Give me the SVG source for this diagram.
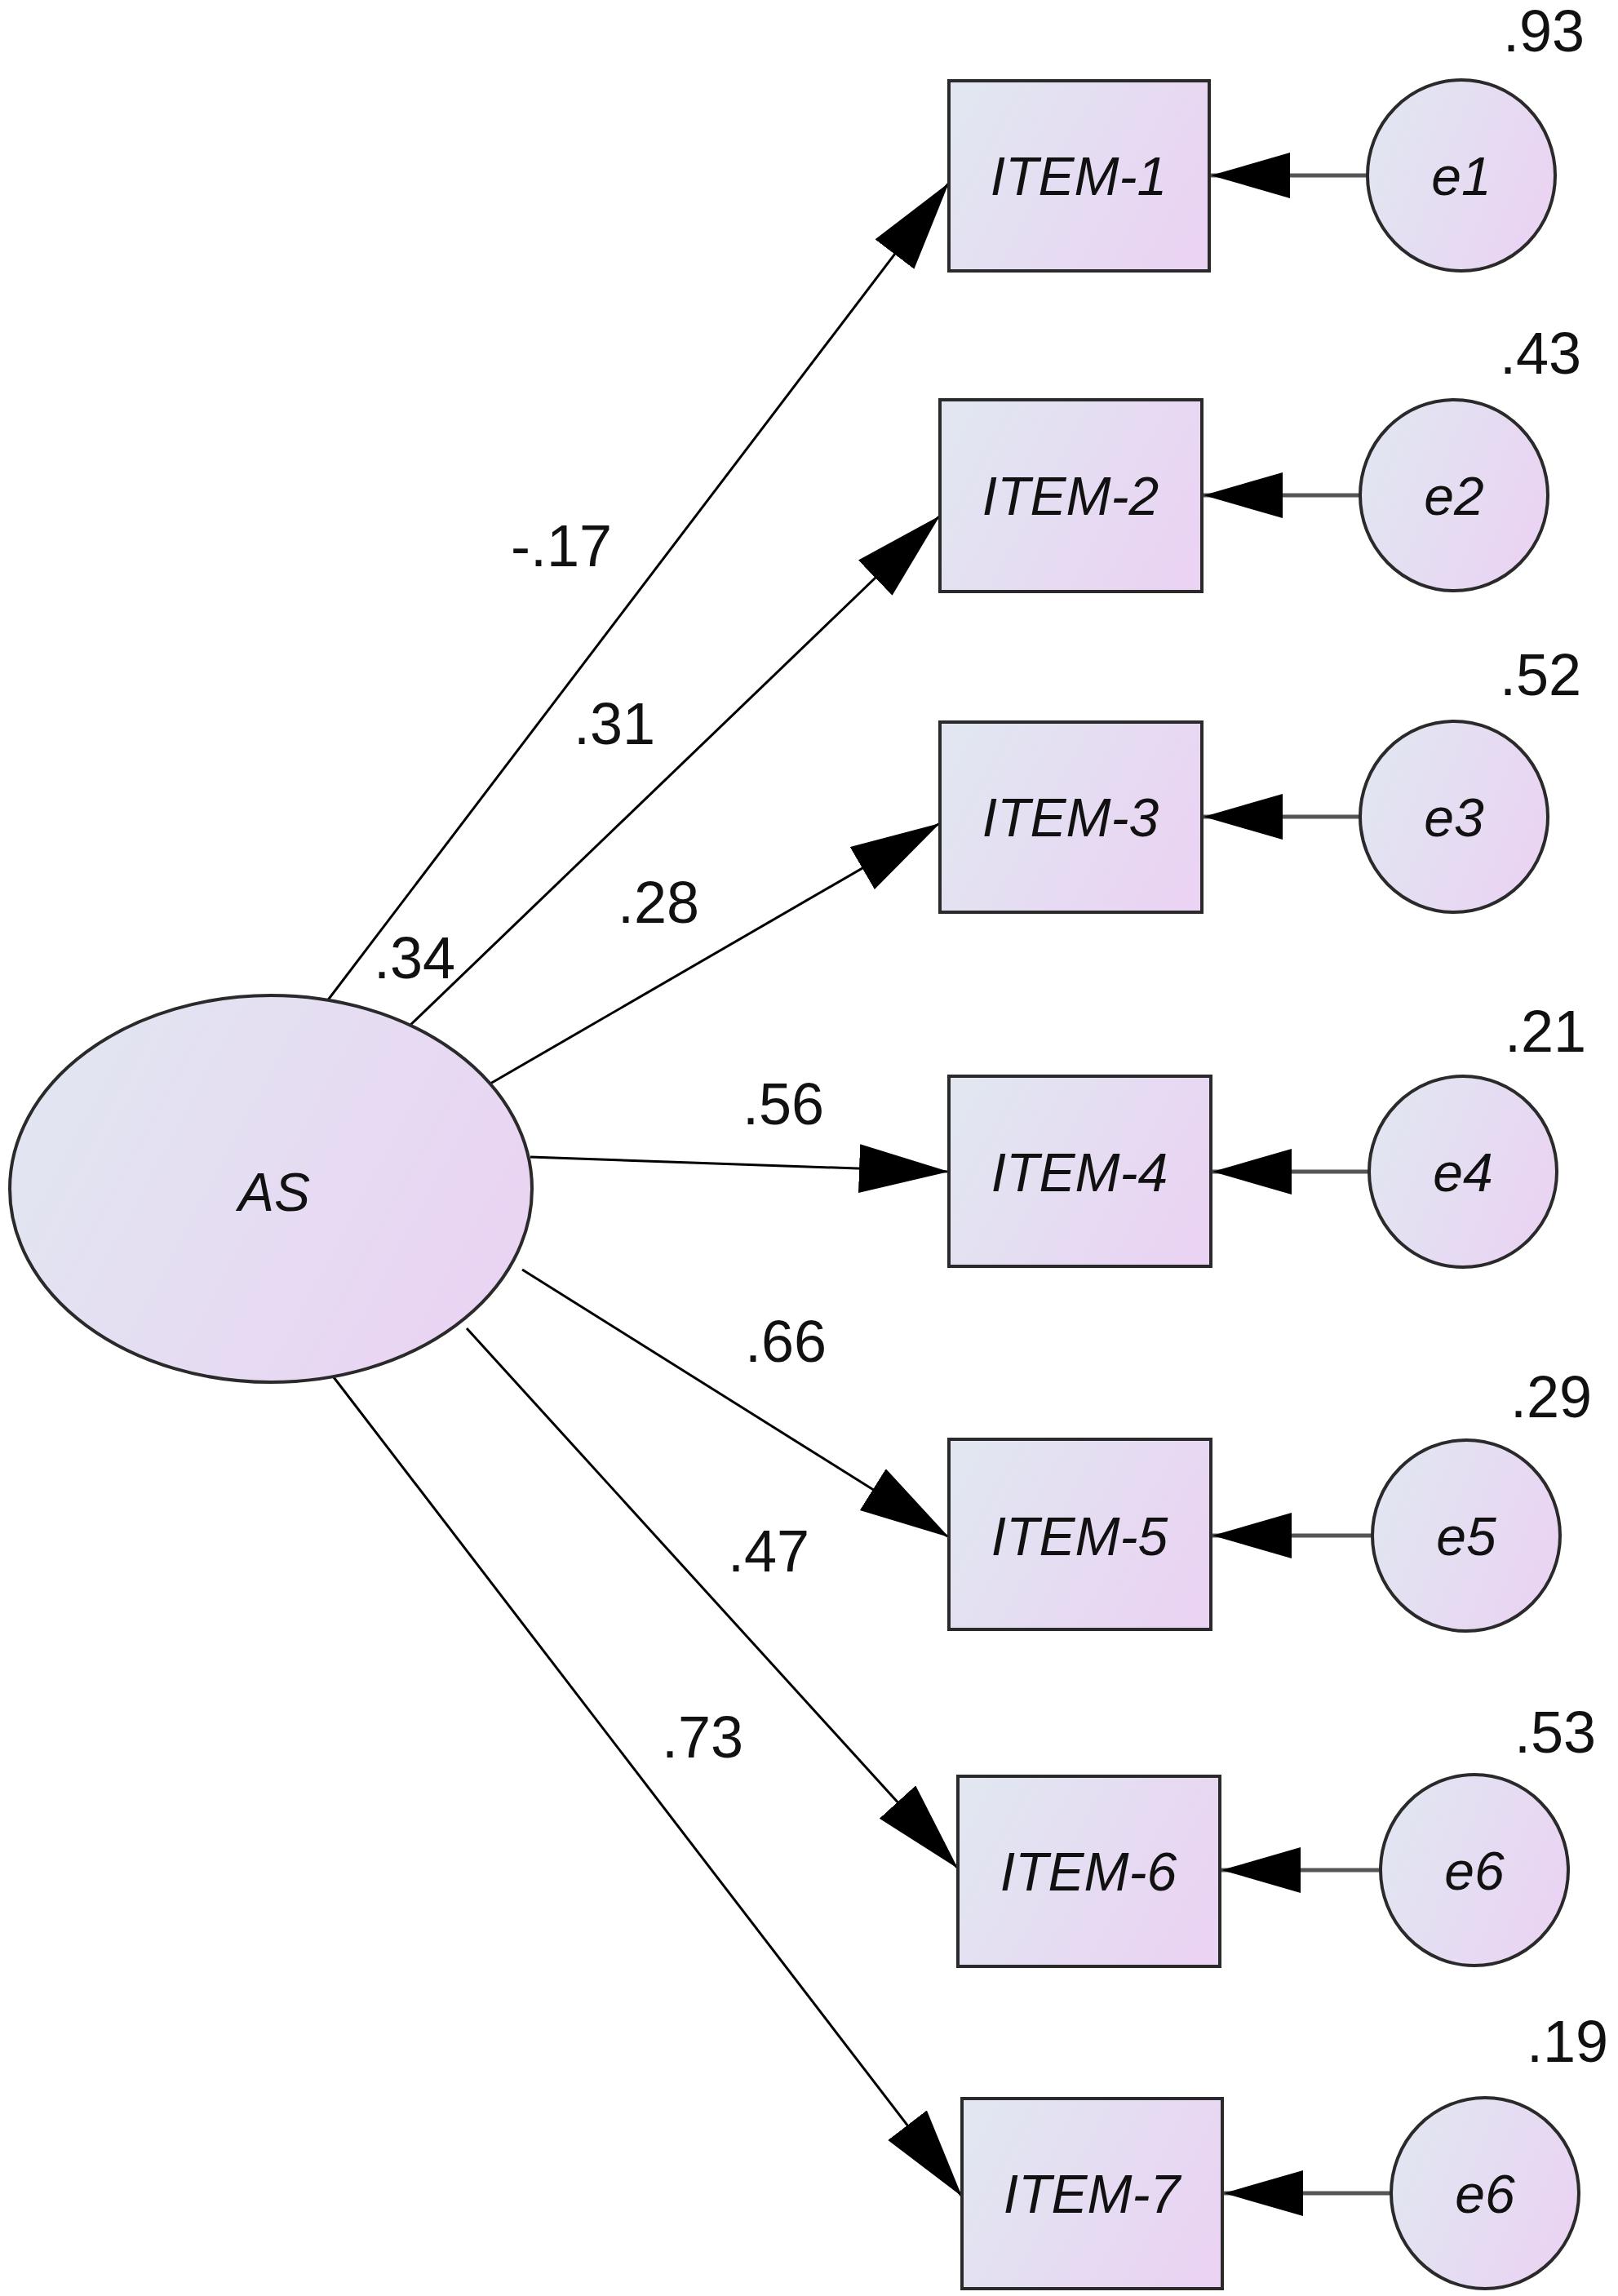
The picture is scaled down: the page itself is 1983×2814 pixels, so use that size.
<svg xmlns="http://www.w3.org/2000/svg" width="1983" height="2814" viewBox="0 0 1983 2814">
<style>
.node{stroke:#2a2a2a;stroke-width:4;fill:url(#g)}
.lbl{font-family:"Liberation Sans",Arial,sans-serif;font-style:italic;font-size:66px;fill:#111;text-anchor:middle}
.num{font-family:"Liberation Sans",Arial,sans-serif;font-size:72px;fill:#111}
.path{stroke:#000;stroke-width:3;fill:none;marker-end:url(#ah)}
.err{stroke:#555;stroke-width:5;fill:none;marker-end:url(#ahs)}
</style>
<defs>
<linearGradient id="g" x1="0" y1="0.3" x2="1" y2="0.7">
<stop offset="0" stop-color="#e1e6f1"/>
<stop offset="1" stop-color="#ead3f3"/>
</linearGradient>
<marker id="ah" markerUnits="userSpaceOnUse" markerWidth="112" markerHeight="62" refX="110" refY="30" orient="auto" viewBox="0 0 112 62">
<path d="M0,0 L110,30 L0,60 Z" fill="#000"/>
</marker>
<marker id="ahs" markerUnits="userSpaceOnUse" markerWidth="100" markerHeight="58" refX="97" refY="28" orient="auto" viewBox="0 0 100 58">
<path d="M0,0 L97,28 L0,56 Z" fill="#000"/>
</marker>
</defs>
<rect width="1983" height="2814" fill="#fff"/>
<g id="connectors">
<line class="path" x1="391" y1="1240" x2="1163" y2="224"/>
<line class="path" x1="499" y1="1260" x2="1152" y2="632"/>
<line class="path" x1="601" y1="1328" x2="1152" y2="1009"/>
<line class="path" x1="650" y1="1418" x2="1163" y2="1436"/>
<line class="path" x1="640" y1="1556" x2="1163" y2="1884"/>
<line class="path" x1="572" y1="1628" x2="1174" y2="2290"/>
<line class="path" x1="409" y1="1688" x2="1179" y2="2692"/>
<line class="err" x1="1676" y1="215" x2="1484" y2="215"/>
<line class="err" x1="1667" y1="607" x2="1475" y2="607"/>
<line class="err" x1="1667" y1="1001" x2="1475" y2="1001"/>
<line class="err" x1="1678" y1="1436" x2="1486" y2="1436"/>
<line class="err" x1="1682" y1="1882" x2="1486" y2="1882"/>
<line class="err" x1="1692" y1="2292" x2="1497" y2="2292"/>
<line class="err" x1="1705" y1="2688" x2="1500" y2="2688"/>
</g>
<g id="AS"><ellipse class="node" cx="332" cy="1457" rx="320" ry="237"/><text class="lbl" x="336" y="1484">AS</text></g>
<g id="ITEM-1"><rect class="node" x="1163" y="99" width="319" height="233"/><text class="lbl" x="1322" y="239">ITEM-1</text></g>
<g id="ITEM-2"><rect class="node" x="1152" y="490" width="321" height="235"/><text class="lbl" x="1312" y="631">ITEM-2</text></g>
<g id="ITEM-3"><rect class="node" x="1152" y="885" width="321" height="233"/><text class="lbl" x="1312" y="1025">ITEM-3</text></g>
<g id="ITEM-4"><rect class="node" x="1163" y="1319" width="321" height="233"/><text class="lbl" x="1323" y="1460">ITEM-4</text></g>
<g id="ITEM-5"><rect class="node" x="1163" y="1764" width="321" height="233"/><text class="lbl" x="1323" y="1906">ITEM-5</text></g>
<g id="ITEM-6"><rect class="node" x="1174" y="2177" width="321" height="233"/><text class="lbl" x="1334" y="2317">ITEM-6</text></g>
<g id="ITEM-7"><rect class="node" x="1179" y="2572" width="319" height="233"/><text class="lbl" x="1338" y="2712">ITEM-7</text></g>
<g id="e1"><ellipse class="node" cx="1791" cy="215" rx="115" ry="117"/><text class="lbl" x="1791" y="239">e1</text></g>
<g id="e2"><ellipse class="node" cx="1782" cy="607" rx="115" ry="117"/><text class="lbl" x="1782" y="631">e2</text></g>
<g id="e3"><ellipse class="node" cx="1782" cy="1001" rx="115" ry="117"/><text class="lbl" x="1782" y="1025">e3</text></g>
<g id="e4"><ellipse class="node" cx="1793" cy="1436" rx="115" ry="117"/><text class="lbl" x="1793" y="1460">e4</text></g>
<g id="e5"><ellipse class="node" cx="1797" cy="1882" rx="115" ry="117"/><text class="lbl" x="1797" y="1906">e5</text></g>
<g id="e6"><ellipse class="node" cx="1807" cy="2292" rx="115" ry="117"/><text class="lbl" x="1807" y="2316">e6</text></g>
<g id="e7"><ellipse class="node" cx="1820" cy="2688" rx="115" ry="117"/><text class="lbl" x="1820" y="2712">e6</text></g>
<g id="variances">
<text class="num" x="1942" y="63" text-anchor="end">.93</text>
<text class="num" x="1938" y="458" text-anchor="end">.43</text>
<text class="num" x="1938" y="852" text-anchor="end">.52</text>
<text class="num" x="1944" y="1289" text-anchor="end">.21</text>
<text class="num" x="1951" y="1737" text-anchor="end">.29</text>
<text class="num" x="1956" y="2148" text-anchor="end">.53</text>
<text class="num" x="1971" y="2527" text-anchor="end">.19</text>
</g>
<g id="loadings">
<text class="num" x="626" y="694">-.17</text>
<text class="num" x="703" y="912">.31</text>
<text class="num" x="458" y="1199">.34</text>
<text class="num" x="757" y="1131">.28</text>
<text class="num" x="910" y="1378">.56</text>
<text class="num" x="913" y="1669">.66</text>
<text class="num" x="892" y="1926">.47</text>
<text class="num" x="811" y="2154">.73</text>
</g>
</svg>
